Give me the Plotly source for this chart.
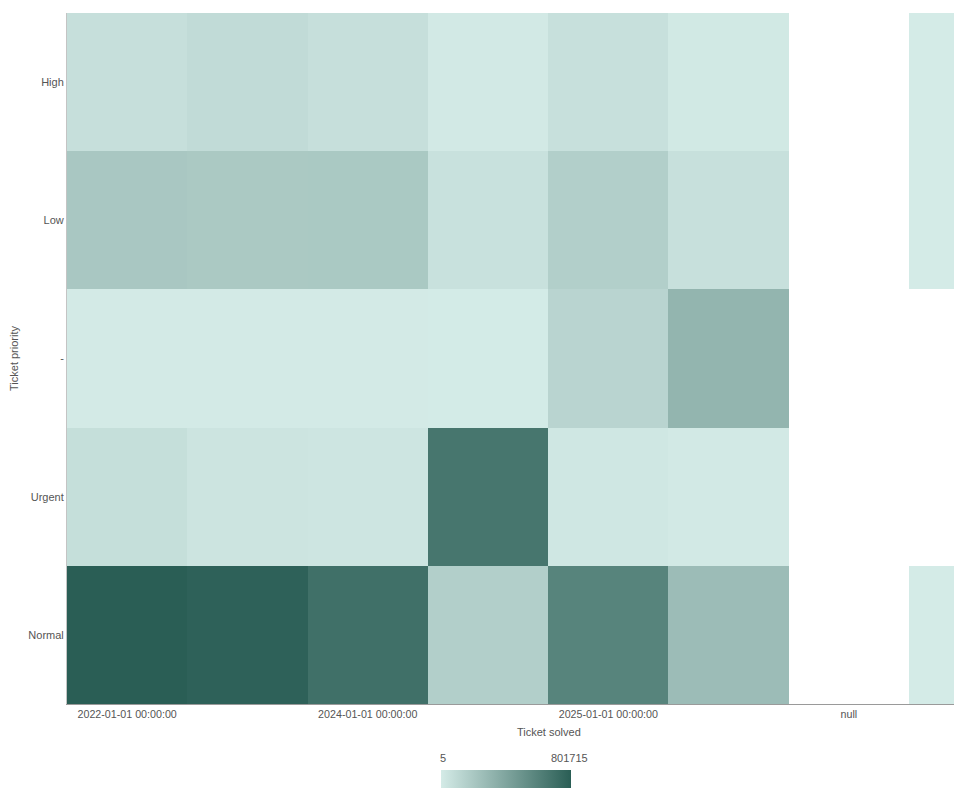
import plotly.graph_objects as go

# Ticket priority rows (bottom to top) and Ticket solved columns
priorities = ["Normal", "Urgent", "-", "Low", "High"]
col_index = [0, 1, 2, 3, 4, 5, 6, 7]
tick_pos = [0, 2, 4, 6]
tick_labels = ["2022-01-01 00:00:00", "2024-01-01 00:00:00", "2025-01-01 00:00:00", "null"]

# counts per priority, one value per column (None = no data)
normal = [801715, 782000, 697000, 161000, 588000, 265000, None, 5]
urgent = [71000, 38000, 33000, 664000, 24000, 10000, None, None]
dash = [4000, 4500, 5500, 2500, 128000, 308000, None, None]
low = [204000, 195000, 196000, 57000, 161000, 62000, None, 800]
high = [66000, 90000, 66000, 10000, 62000, 14000, None, 1200]

z = [normal, urgent, dash, low, high]
all_vals = [v for row in z for v in row if v is not None]
zmin, zmax = min(all_vals), max(all_vals)

fig = go.Figure()

fig.add_trace(go.Heatmap(
    x=col_index,
    y=priorities,
    z=z,
    zmin=zmin,
    zmax=zmax,
    colorscale=[[0, "#d4ebe7"], [1, "#2a5e55"]],
    xgap=0,
    ygap=0,
    hoverongaps=False,
    colorbar=dict(
        orientation="h",
        x=0.49,
        xanchor="center",
        y=-0.108,
        yanchor="middle",
        len=150,
        lenmode="pixels",
        thickness=18,
        ypad=0,
        outlinewidth=0,
        showticklabels=False,
        ticks="",
    ),
))

# colorbar end labels (min / max)
for xp, val in [(0.42, zmin), (0.561, zmax)]:
    fig.add_annotation(
        x=xp, y=-0.078, xref="paper", yref="paper",
        text=str(val), showarrow=False,
        font=dict(size=11, color="#555555"),
        xanchor="center", yanchor="middle",
    )

# x axis title (the real chart is wider than the window, so centre it by hand)
fig.add_annotation(
    x=0.538, y=-0.04, xref="paper", yref="paper",
    text="Ticket solved", showarrow=False,
    font=dict(size=11, color="#555555"),
    xanchor="center", yanchor="middle",
)

# page body adds an 8px offset, so margins are trimmed to match
fig.update_layout(
    width=954,
    height=791,
    margin=dict(l=59, r=0, t=5, b=95),
    plot_bgcolor="white",
    paper_bgcolor="white",
    font=dict(family="Liberation Sans, Arial, sans-serif", size=11, color="#555555"),
    xaxis=dict(
        range=[-0.5, 6.94],
        tickvals=tick_pos,
        ticktext=tick_labels,
        tickfont=dict(size=10.7),
        showgrid=False,
        zeroline=False,
        showline=True,
        linecolor="#9a9a9a",
        linewidth=1,
        ticks="",
    ),
    yaxis=dict(
        title=dict(text="Ticket priority", font=dict(size=11), standoff=8),
        showgrid=False,
        zeroline=False,
        showline=True,
        linecolor="#c4c4c4",
        linewidth=1,
        ticks="",
    ),
)

fig.write_html("out.html")
